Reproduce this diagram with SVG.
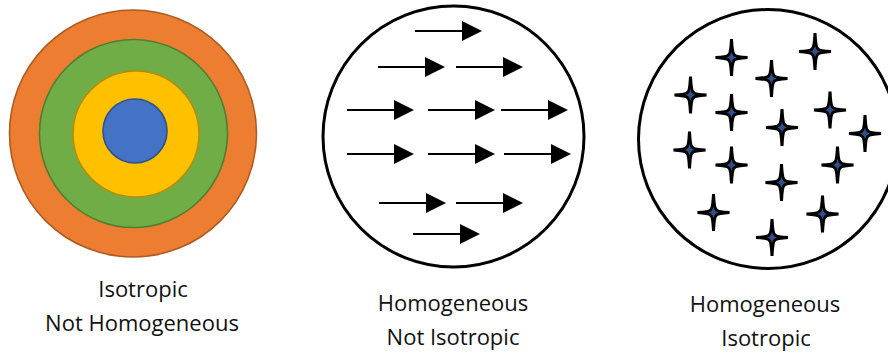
<svg xmlns="http://www.w3.org/2000/svg" xmlns:xlink="http://www.w3.org/1999/xlink" width="888" height="353" viewBox="0 0 888 353">
  <style>
    .ring { stroke-width: 1.6; }
    .frame { fill: #fff; stroke: #000; stroke-width: 3; }
    .shaft { stroke: #000; stroke-width: 2; }
    .head { fill: #000; }
    .star { fill: #2F4F8A; stroke: #000; stroke-width: 3; stroke-linejoin: miter; stroke-miterlimit: 4; }
    .lbl { font-family: "Open Sans", "Noto Sans", "Liberation Sans", sans-serif; font-size: 22px; fill: #111; text-anchor: middle; }
  </style>
  <defs>
    <g id="arrow">
      <line class="shaft" x1="-67" y1="0" x2="-18" y2="0"/>
      <polygon class="head" points="-20,-10 0,0 -20,10"/>
    </g>
    <path id="star4" class="star" d="M0,-18.5 Q0.8,-4 2.8,-2.8 Q4,-0.8 16,0 Q4,0.8 2.8,2.8 Q0.8,4 0,18.5 Q-0.8,4 -2.8,2.8 Q-4,0.8 -16,0 Q-4,-0.8 -2.8,-2.8 Q-0.8,-4 0,-18.5 Z"/>
  </defs>

  <g id="isotropic-not-homogeneous">
    <circle class="ring" cx="133" cy="133.5" r="123.5" fill="#ED7D31" stroke="#AE5A21"/>
    <circle class="ring" cx="133.5" cy="133.5" r="94" fill="#70AD47" stroke="#507E32"/>
    <circle class="ring" cx="136" cy="134" r="63" fill="#FFC000" stroke="#BC8C00"/>
    <circle class="ring" cx="135" cy="131" r="32" fill="#4472C4" stroke="#2F528F"/>
    <text class="lbl" x="143" y="297">Isotropic</text>
    <text class="lbl" x="142" y="331">Not Homogeneous</text>
  </g>

  <g id="homogeneous-not-isotropic">
    <circle class="frame" cx="453.5" cy="136.5" r="130.5"/>
    <use xlink:href="#arrow" transform="translate(482,31)"/>
    <use xlink:href="#arrow" transform="translate(445,67)"/>
    <use xlink:href="#arrow" transform="translate(523,67)"/>
    <use xlink:href="#arrow" transform="translate(414,110)"/>
    <use xlink:href="#arrow" transform="translate(495,110)"/>
    <use xlink:href="#arrow" transform="translate(568,110)"/>
    <use xlink:href="#arrow" transform="translate(414,154)"/>
    <use xlink:href="#arrow" transform="translate(495,154)"/>
    <use xlink:href="#arrow" transform="translate(571,154)"/>
    <use xlink:href="#arrow" transform="translate(446,203)"/>
    <use xlink:href="#arrow" transform="translate(523,203)"/>
    <use xlink:href="#arrow" transform="translate(480,234)"/>
    <text class="lbl" x="453" y="311">Homogeneous</text>
    <text class="lbl" x="453" y="345">Not Isotropic</text>
  </g>

  <g id="homogeneous-isotropic">
    <circle class="frame" cx="768" cy="139" r="129.5"/>
    <use xlink:href="#star4" transform="translate(731.5,57.5)"/>
    <use xlink:href="#star4" transform="translate(815,51.5)"/>
    <use xlink:href="#star4" transform="translate(771.5,78.5)"/>
    <use xlink:href="#star4" transform="translate(690.5,95)"/>
    <use xlink:href="#star4" transform="translate(731.5,112.5)"/>
    <use xlink:href="#star4" transform="translate(830,110)"/>
    <use xlink:href="#star4" transform="translate(782,127.5)"/>
    <use xlink:href="#star4" transform="translate(865,133.5)"/>
    <use xlink:href="#star4" transform="translate(689.5,150)"/>
    <use xlink:href="#star4" transform="translate(731.5,165)"/>
    <use xlink:href="#star4" transform="translate(837.5,165)"/>
    <use xlink:href="#star4" transform="translate(781.5,182.5)"/>
    <use xlink:href="#star4" transform="translate(713.5,212.5)"/>
    <use xlink:href="#star4" transform="translate(822.5,214)"/>
    <use xlink:href="#star4" transform="translate(772,237.5)"/>
    <text class="lbl" x="765" y="312">Homogeneous</text>
    <text class="lbl" x="766" y="346">Isotropic</text>
  </g>

  <g id="connectors"/>
</svg>
